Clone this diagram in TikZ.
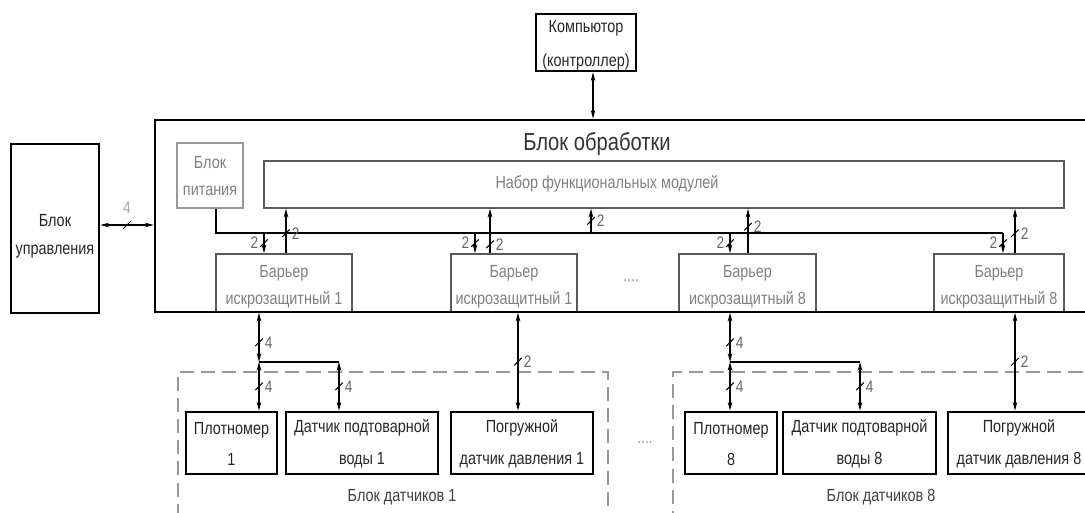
\documentclass[tikz,border=0pt]{standalone}
\usepackage{fontspec}
\setmainfont{Liberation Sans}[FakeStretch=0.82]
\usetikzlibrary{arrows.meta,positioning,fit}

\begin{document}
\begin{tikzpicture}[x=0.02cm, y=-0.02cm,
    heavy/.style={draw, line width=1.5pt, inner sep=0},
    light/.style={draw=black!65, line width=0.9pt, inner sep=0},
    htxt/.style={align=center, yshift=-0.5pt, font=\fontsize{10}{18}\selectfont, text=black!85},
    ltxt/.style={align=center, yshift=-2pt, font=\fontsize{10}{15.5}\selectfont, text=black!50},
    group/.style={draw=black!40, line width=0.7pt, dash pattern=on 8pt off 4pt, inner sep=0},
    link/.style={line width=0.7pt},
    both/.style={link, {Stealth[length=5pt,width=2.6pt]}-{Stealth[length=5pt,width=2.6pt]}},
    into/.style={link, -{Stealth[length=5pt,width=2.6pt]}},
    tick/.style={draw, line width=0.6pt, inner sep=0, minimum width=6pt, minimum height=0pt, rotate=45},
    num/.style={font=\fontsize{9.5}{10}\selectfont, text=black!60, inner sep=1pt},
]
    \useasboundingbox (0,0) rectangle (1085,513);
    \clip (0,0) rectangle (1085,513);

    % top and left blocks
    \node[heavy, fit={(536,14) (636,71)}, label={[htxt, yshift=-1.1pt, font=\fontsize{10}{19}\selectfont]center:{Компьютор\\(контроллер)}}] (comp) {};
    \node[heavy, fit={(11,144) (99,313)}, label={[htxt, yshift=-3.9pt, font=\fontsize{10}{16}\selectfont]center:{Блок\\управления}}] (upr) {};

    % inside the processing block
    \node[light, draw=black!40, fit={(177,143) (243,208)}, label={[ltxt, yshift=1.5pt]center:{Блок\\питания}}] (pit) {};
    \node[light, fit={(264,161) (1064,208)}] (mod) {};
    \node[ltxt, yshift=3pt] (modt) at (607,186) {Набор функциональных модулей};
    \node[light, fit={(216,254) (352,312)}, label={[ltxt]center:{Барьер\\искрозащитный 1}}] (b1) {};
    \node[light, fit={(451,254) (577,312)}, label={[ltxt]center:{Барьер\\искрозащитный 1}}] (b2) {};
    \node[light, fit={(679,254) (816,312)}, label={[ltxt]center:{Барьер\\искрозащитный 8}}] (b3) {};
    \node[light, fit={(934,254) (1064,312)}, label={[ltxt]center:{Барьер\\искрозащитный 8}}] (b4) {};
    \node[num, text=black!45] (dt1) at (631,281) {....};
    \node[draw, line width=1.5pt, inner sep=0, fit={(155,120) (1100,312)}] (obr) {};
    \node[font=\fontsize{14}{16}\selectfont, text=black!80] (obrt) at (597,144) {Блок обработки};

    % sensor groups
    \node[group, fit={(178,372) (608,540)}] (g1) {};
    \node[group, fit={(673,372) (1110,540)}] (g8) {};
    \node[font=\fontsize{10}{12}\selectfont, text=black!75] (g1t) at (402,497) {Блок датчиков 1};
    \node[font=\fontsize{10}{12}\selectfont, text=black!75] (g8t) at (881,497) {Блок датчиков 8};
    \node[num, text=black!45] (dt2) at (645,443) {....};

    \node[heavy, fit={(186,412) (277,474)}, label={[htxt]center:{Плотномер\\1}}] (pl1) {};
    \node[heavy, fit={(286,412) (438,474)}, label={[htxt]center:{Датчик подтоварной\\воды 1}}] (dv1) {};
    \node[heavy, fit={(451,412) (593,474)}, label={[htxt]center:{Погружной\\датчик давления 1}}] (pg1) {};
    \node[heavy, fit={(685,412) (777,474)}, label={[htxt]center:{Плотномер\\8}}] (pl8) {};
    \node[heavy, fit={(783,412) (936,474)}, label={[htxt]center:{Датчик подтоварной\\воды 8}}] (dv8) {};
    \node[heavy, fit={(948,412) (1090,474)}, label={[htxt]center:{Погружной\\датчик давления 8}}] (pg8) {};

    % outer links
    \draw[both] (comp.south -| 593,0) -- (obr.north -| 593,0);
    \draw[both] (upr.east |- 0,225) -- node[tick]{} node[num, text=black!35, above=5pt]{4} (obr.west |- 0,225);

    % power bus
    \coordinate (bA) at (216,233);
    \coordinate (bE) at (1003,233);
    \coordinate (p1) at (264,233);
    \coordinate (p2) at (475,233);
    \coordinate (pm) at (591,233);
    \coordinate (p3) at (730,233);
    \draw[link] (pit.south -| bA) -- (bA) -- (bE);
    \draw[into] (p1) -- node[tick]{} node[num, left=2pt]{2} (b1.north -| p1);
    \draw[into] (p2) -- node[tick]{} node[num, left=2pt]{2} (b2.north -| p2);
    \draw[into] (p3) -- node[tick]{} node[num, left=2pt]{2} (b3.north -| p3);
    \draw[into] (bE) -- node[tick]{} node[num, left=2pt]{2} (b4.north -| bE);
    \draw[into] (pm) -- node[tick]{} node[num, right=2pt]{2} (mod.south -| pm);

    % barriers to modules
    \draw[into] (b1.north -| 286,0) -- node[pos=.45, tick]{} node[pos=.45, num, right=2pt]{2} (mod.south -| 286,0);
    \draw[into] (b2.north -| 490,0) -- node[pos=.2, tick]{} node[pos=.2, num, right=2pt]{2} (mod.south -| 490,0);
    \draw[into] (b3.north -| 748,0) -- node[pos=.6, tick]{} node[pos=.6, num, right=2pt]{2} (mod.south -| 748,0);
    \draw[into] (b4.north -| 1015,0) -- node[pos=.45, tick]{} node[pos=.45, num, right=2pt]{2} (mod.south -| 1015,0);

    % barriers to sensors
    \coordinate (j1) at (259,362);
    \coordinate (k1) at (339,362);
    \coordinate (j8) at (730,362);
    \coordinate (k8) at (860,362);
    \draw[both] (b1.south -| j1) -- node[pos=.6, tick]{} node[pos=.6, num, right=2pt]{4} (j1);
    \draw[both] (j1) -- node[tick]{} node[num, right=2pt]{4} (pl1.north -| j1);
    \draw[link] (j1) -- (k1);
    \draw[both] (k1) -- node[tick]{} node[num, right=2pt]{4} (dv1.north -| k1);
    \draw[both] (b2.south -| 518,0) -- node[tick]{} node[num, right=2pt]{2} (pg1.north -| 518,0);

    \draw[both] (b3.south -| j8) -- node[pos=.6, tick]{} node[pos=.6, num, right=2pt]{4} (j8);
    \draw[both] (j8) -- node[tick]{} node[num, right=2pt]{4} (pl8.north -| j8);
    \draw[link] (j8) -- (k8);
    \draw[both] (k8) -- node[tick]{} node[num, right=2pt]{4} (dv8.north -| k8);
    \draw[both] (b4.south -| 1015,0) -- node[tick]{} node[num, right=2pt]{2} (pg8.north -| 1015,0);
\end{tikzpicture}
\end{document}
